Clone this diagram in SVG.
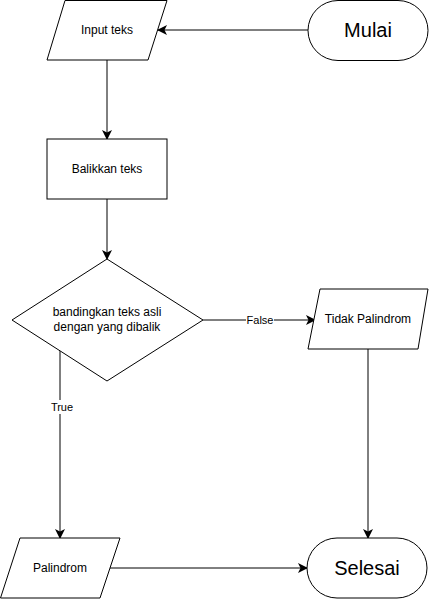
<svg xmlns="http://www.w3.org/2000/svg" width="429" height="599" viewBox="0 0 429 599">
<style>
.s{fill:#fff;stroke:#000;stroke-width:1}
.t{font-family:"Liberation Sans",Arial,sans-serif;font-size:12px;fill:#000;text-anchor:middle;dominant-baseline:central}
.b{font-size:20px}
.l{font-size:11px}
.c{fill:none;stroke:#000;stroke-width:1}
</style>
<defs>
<marker id="a" viewBox="0 0 10 10" refX="9" refY="5" markerWidth="10" markerHeight="10" markerUnits="userSpaceOnUse" orient="auto">
<path d="M0,0 L10,5 L0,10 L2.5,5 Z" fill="#000"/>
</marker>
</defs>
<g id="connectors">
<path class="c" d="M308,30 L158,30" marker-end="url(#a)"/>
<path class="c" d="M107,60 L107,139" marker-end="url(#a)"/>
<path class="c" d="M107,199 L107,259" marker-end="url(#a)"/>
<path class="c" d="M203,320 L315,320" marker-end="url(#a)"/>
<rect x="246" y="313" width="28" height="14" fill="#fff"/>
<text class="t l" x="260" y="320">False</text>
<path class="c" d="M60,351 L60,538" marker-end="url(#a)"/>
<rect x="48" y="400" width="28" height="14" fill="#fff"/>
<text class="t l" x="62" y="407">True</text>
<path class="c" d="M368,349 L368,538" marker-end="url(#a)"/>
<path class="c" d="M110,568 L307,568" marker-end="url(#a)"/>
</g>
<g id="mulai">
<rect class="s" x="308" y="0.5" width="120" height="60" rx="30" ry="30"/>
<text class="t b" x="368" y="30">Mulai</text>
</g>
<g id="input">
<path class="s" d="M65,0.5 L167,0.5 L148,60 L47,60 Z"/>
<text class="t" x="107" y="30">Input teks</text>
</g>
<g id="balikkan">
<rect class="s" x="47" y="139" width="120" height="60"/>
<text class="t" x="107" y="169">Balikkan teks</text>
</g>
<g id="bandingkan">
<path class="s" d="M107,259 L203,320 L107,381 L12,320 Z"/>
<text class="t" x="107" y="312">bandingkan teks asli</text>
<text class="t" x="107" y="327">dengan yang dibalik</text>
</g>
<g id="tidak">
<path class="s" d="M320,289 L428,289 L418,349 L308,349 Z"/>
<text class="t" x="368" y="319">Tidak Palindrom</text>
</g>
<g id="palindrom">
<path class="s" d="M20,538 L120,538 L100,598 L0.5,598 Z"/>
<text class="t" x="60" y="568">Palindrom</text>
</g>
<g id="selesai">
<rect class="s" x="307" y="538" width="120" height="60" rx="30" ry="30"/>
<text class="t b" x="367" y="568">Selesai</text>
</g>
</svg>
